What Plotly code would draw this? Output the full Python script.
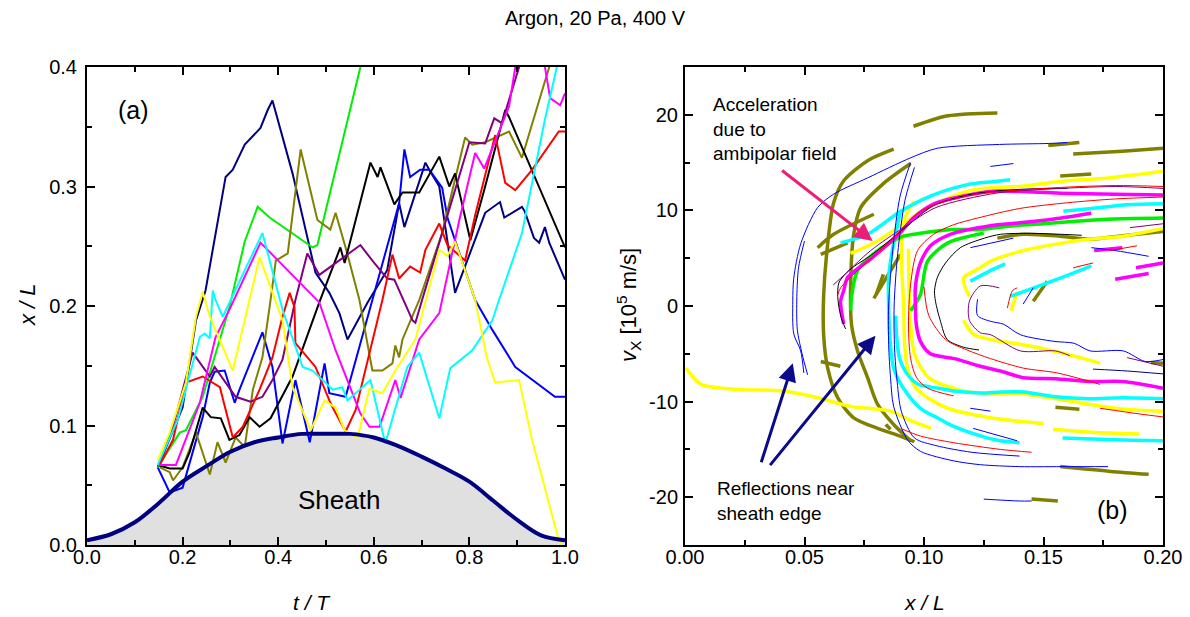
import plotly.graph_objects as go

# ================= Panel (a): x/L versus t/T =================
sheath_t = [0.00, 0.05, 0.10, 0.15, 0.20, 0.25, 0.30, 0.35, 0.40, 0.45, 0.50,
            0.55, 0.60, 0.65, 0.70, 0.75, 0.80, 0.85, 0.90, 0.95, 1.00]
sheath_x = [0.004, 0.009, 0.019, 0.035, 0.053, 0.066, 0.078, 0.086, 0.090, 0.093, 0.093,
            0.093, 0.090, 0.083, 0.074, 0.064, 0.053, 0.037, 0.021, 0.008, 0.004]

navy_t = [0.148, 0.200, 0.228, 0.248, 0.290, 0.305, 0.330, 0.363, 0.378, 0.388, 0.430, 0.478,
          0.507, 0.528, 0.545, 0.587, 0.628, 0.653, 0.664, 0.708, 0.716, 0.737, 0.770, 0.833,
          0.864, 0.873, 0.910, 0.916, 0.935, 0.946, 0.958, 0.967, 1.000]
navy_x = [0.065, 0.115, 0.188, 0.213, 0.308, 0.314, 0.335, 0.349, 0.364, 0.372, 0.311, 0.228,
          0.211, 0.194, 0.172, 0.203, 0.230, 0.286, 0.266, 0.320, 0.314, 0.300, 0.211, 0.278,
          0.287, 0.274, 0.283, 0.279, 0.257, 0.253, 0.266, 0.253, 0.222]

blue_t = [0.148, 0.173, 0.200, 0.242, 0.257, 0.267, 0.288, 0.309, 0.319, 0.367, 0.388, 0.409,
          0.436, 0.466, 0.497, 0.507, 0.541, 0.597, 0.612, 0.653, 0.664, 0.676, 0.697, 0.716,
          0.743, 0.754, 0.812, 0.848, 0.896, 0.946, 0.979, 1.000]
blue_x = [0.065, 0.044, 0.048, 0.107, 0.136, 0.145, 0.146, 0.119, 0.130, 0.178, 0.149, 0.085,
          0.138, 0.086, 0.152, 0.127, 0.124, 0.205, 0.228, 0.286, 0.331, 0.308, 0.314, 0.314,
          0.299, 0.274, 0.205, 0.180, 0.149, 0.134, 0.124, 0.124]

green_t = [0.148, 0.194, 0.207, 0.242, 0.298, 0.330, 0.357, 0.382, 0.472, 0.482, 0.572, 0.580]
green_x = [0.065, 0.094, 0.096, 0.124, 0.199, 0.254, 0.283, 0.274, 0.249, 0.251, 0.400, 0.415]

olive_t = [0.152, 0.173, 0.180, 0.200, 0.228, 0.257, 0.273, 0.290, 0.311, 0.330, 0.347, 0.367,
           0.384, 0.395, 0.420, 0.447, 0.482, 0.509, 0.520, 0.541, 0.570, 0.597, 0.618, 0.639,
           0.645, 0.653, 0.660, 0.695, 0.743, 0.791, 0.806, 0.833, 0.883, 0.910, 0.967, 0.975]
olive_x = [0.065, 0.061, 0.054, 0.065, 0.094, 0.059, 0.086, 0.069, 0.090, 0.082, 0.130, 0.157,
           0.205, 0.238, 0.244, 0.331, 0.272, 0.264, 0.278, 0.249, 0.205, 0.146, 0.146, 0.152,
           0.167, 0.157, 0.172, 0.205, 0.261, 0.341, 0.335, 0.337, 0.346, 0.324, 0.400, 0.415]

black_t = [0.148, 0.173, 0.200, 0.215, 0.242, 0.259, 0.280, 0.298, 0.319, 0.340, 0.361, 0.384,
           0.430, 0.486, 0.530, 0.539, 0.593, 0.608, 0.614, 0.643, 0.660, 0.695, 0.737, 0.758,
           0.770, 0.802, 0.831, 0.875, 0.883, 0.910, 1.000]
black_x = [0.067, 0.064, 0.064, 0.078, 0.115, 0.107, 0.106, 0.088, 0.092, 0.107, 0.099, 0.106,
           0.141, 0.203, 0.249, 0.236, 0.320, 0.308, 0.316, 0.285, 0.295, 0.295, 0.325, 0.300,
           0.311, 0.255, 0.297, 0.364, 0.358, 0.333, 0.249]

purple_t = [0.152, 0.184, 0.221, 0.257, 0.267, 0.311, 0.342, 0.367, 0.388, 0.409, 0.436, 0.461,
            0.486, 0.528, 0.572, 0.597, 0.628, 0.643, 0.681, 0.687, 0.701, 0.800, 0.833, 0.852,
            0.868, 0.904, 0.910]
purple_x = [0.067, 0.105, 0.161, 0.141, 0.149, 0.124, 0.120, 0.124, 0.138, 0.155, 0.205, 0.244,
            0.226, 0.238, 0.251, 0.238, 0.223, 0.222, 0.188, 0.186, 0.205, 0.337, 0.336, 0.357,
            0.353, 0.400, 0.415]

red_t = [0.152, 0.180, 0.207, 0.242, 0.278, 0.305, 0.326, 0.361, 0.388, 0.409, 0.424, 0.434,
         0.436, 0.478, 0.507, 0.514, 0.541, 0.562, 0.618, 0.639, 0.653, 0.676, 0.697, 0.708,
         0.737, 0.754, 0.791, 0.812, 0.854, 0.875, 0.896, 0.931, 0.987, 1.000]
red_x = [0.067, 0.088, 0.136, 0.141, 0.132, 0.090, 0.099, 0.130, 0.157, 0.191, 0.211, 0.199,
         0.169, 0.149, 0.121, 0.115, 0.095, 0.113, 0.205, 0.243, 0.223, 0.233, 0.228, 0.247,
         0.269, 0.251, 0.238, 0.276, 0.343, 0.303, 0.297, 0.314, 0.346, 0.346]

magenta_t = [0.148, 0.186, 0.236, 0.269, 0.298, 0.363, 0.486, 0.520, 0.572, 0.591, 0.612, 0.645,
             0.656, 0.695, 0.737, 0.743, 0.779, 0.812, 0.831, 0.883, 0.896, 0.927, 0.958, 0.969,
             0.990, 1.000]
magenta_x = [0.067, 0.067, 0.119, 0.174, 0.197, 0.253, 0.203, 0.163, 0.110, 0.099, 0.099, 0.138,
             0.123, 0.172, 0.194, 0.205, 0.272, 0.328, 0.315, 0.367, 0.400, 0.430, 0.400, 0.374,
             0.368, 0.378]

cyan_t = [0.148, 0.190, 0.236, 0.246, 0.257, 0.263, 0.269, 0.284, 0.367, 0.409, 0.451, 0.472,
          0.514, 0.534, 0.545, 0.593, 0.624, 0.670, 0.695, 0.737, 0.760, 0.806, 0.848, 0.862,
          0.910, 0.958, 0.983, 0.990]
cyan_x = [0.067, 0.105, 0.174, 0.177, 0.173, 0.213, 0.205, 0.191, 0.261, 0.197, 0.149, 0.146,
          0.130, 0.132, 0.121, 0.138, 0.085, 0.149, 0.161, 0.106, 0.148, 0.163, 0.188, 0.205,
          0.261, 0.356, 0.400, 0.415]

yellow_t = [0.148, 0.173, 0.207, 0.228, 0.242, 0.257, 0.305, 0.361, 0.409, 0.430, 0.468, 0.497,
            0.520, 0.539, 0.566, 0.591, 0.618, 0.645, 0.687, 0.737, 0.754, 0.770, 0.812, 0.837,
            0.854, 0.904, 0.931, 0.987, 0.994]
yellow_x = [0.071, 0.094, 0.136, 0.191, 0.212, 0.191, 0.146, 0.241, 0.188, 0.132, 0.096, 0.121,
            0.115, 0.096, 0.090, 0.131, 0.127, 0.146, 0.172, 0.247, 0.242, 0.254, 0.205, 0.156,
            0.136, 0.138, 0.088, 0.004, -0.002]

# ================= Panel (b): v_x versus x/L (segments) =================
# thick segments
olive_outer_x = [0.0873, 0.0764, 0.0664, 0.0622, 0.0597, 0.0580, 0.0580, 0.0597, 0.0639, 0.0706, 0.0806, 0.0900, 0.0960]
olive_outer_y = [16.4, 15.2, 13.1, 10.8, 6.5, 1.0, -3.0, -6.5, -9.6, -11.7, -12.8, -13.6, -14.2]
olive_second_x = [0.0944, 0.0830, 0.0735, 0.0706, 0.0693, 0.0697, 0.0722, 0.0764, 0.0806, 0.0873, 0.0944]
olive_second_y = [14.9, 12.8, 10.3, 7.5, 2.0, -2.0, -4.7, -7.5, -10.3, -12.4, -14.1]
olive_s1_x = [0.0555, 0.0622, 0.0790]
olive_s1_y = [6.1, 7.5, 9.6]
olive_s2_x = [0.0568, 0.0680]
olive_s2_y = [5.4, 6.6]
olive_s3_x = [0.0800, 0.0830]
olive_s3_y = [1.2, 3.3]
olive_s4_x = [0.0790, 0.0902]
olive_s4_y = [0.8, 5.4]
olive_s5_x = [0.1457, 0.1516]
olive_s5_y = [0.5, 2.6]
olive_top1_x = [0.0956, 0.1100, 0.1307]
olive_top1_y = [18.8, 19.9, 20.2]
olive_top2_x = [0.1520, 0.1650]
olive_top2_y = [16.8, 17.1]
olive_top3_x = [0.1624, 0.1830, 0.2000]
olive_top3_y = [15.9, 16.2, 16.5]
olive_mid_x = [0.1570, 0.1700]
olive_mid_y = [13.6, 13.8]
olive_right_x = [0.1307, 0.1416, 0.1570, 0.1695, 0.1850, 0.2000]
olive_right_y = [7.1, 7.5, 7.3, 7.0, 7.4, 7.8]
olive_low1_x = [0.1570, 0.1780, 0.1940]
olive_low1_y = [-16.8, -17.3, -17.6]
olive_low2_x = [0.1450, 0.1560]
olive_low2_y = [-20.2, -20.4]
olive_low3_x = [0.1550, 0.1650]
olive_low3_y = [-10.6, -10.8]
olive_left_x = [0.0568, 0.0650]
olive_left_y = [-5.8, -6.3]
olive_small_x = [0.0840, 0.0860]
olive_small_y = [-12.4, -12.9]
olive_edge_x = [0.1950, 0.2000]
olive_edge_y = [-5.9, -6.0]

yellow_long_x = [0.0004, 0.0067, 0.0205, 0.0413, 0.0555, 0.0693, 0.0860, 0.0944, 0.1030]
yellow_long_y = [-6.5, -8.2, -8.7, -8.9, -9.6, -10.5, -11.0, -12.0, -12.8]
yellow_upper_x = [0.0693, 0.0806, 0.0931, 0.1015, 0.1182, 0.1290, 0.1400, 0.1560, 0.1770, 0.2000]
yellow_upper_y = [5.5, 6.8, 8.9, 10.3, 12.0, 12.4, 12.5, 13.0, 13.4, 14.1]
yellow_c1_x = [0.0960, 0.0915, 0.0906, 0.0915, 0.0919, 0.0931, 0.0964, 0.1015, 0.1111, 0.1236, 0.1374, 0.1500]
yellow_c1_y = [11.0, 8.9, 5.0, 0.0, -4.0, -6.5, -8.5, -9.6, -10.8, -11.5, -12.0, -12.3]
yellow_c2_x = [0.0935, 0.0940, 0.0960, 0.1020, 0.1150, 0.1278, 0.1415, 0.1695, 0.1834, 0.2000]
yellow_c2_y = [6.0, 0.0, -5.0, -7.5, -8.8, -9.2, -9.2, -10.3, -10.8, -11.0]
yellow_c3_x = [0.1190, 0.1165, 0.1236, 0.1280, 0.1416, 0.1557, 0.1695, 0.1834, 0.2000]
yellow_c3_y = [1.0, 2.9, 4.0, 4.7, 5.8, 6.5, 7.0, 7.3, 8.1]
yellow_c3low_x = [0.1165, 0.1210, 0.1403, 0.1486, 0.1653, 0.1737]
yellow_c3low_y = [-1.5, -3.0, -4.0, -4.4, -5.4, -6.0]
yellow_seg_x = [0.1540, 0.1700, 0.1900]
yellow_seg_y = [-12.9, -13.2, -13.4]
yellow_tiny_x = [0.1365, 0.1390]
yellow_tiny_y = [-0.5, 1.5]

cyan_upper_x = [0.0651, 0.0764, 0.0902, 0.1027, 0.1182, 0.1290, 0.1360]
cyan_upper_y = [6.6, 7.5, 9.9, 11.5, 12.7, 13.0, 13.2]
cyan_c1_x = [0.0902, 0.0869, 0.0852, 0.0852, 0.0856, 0.0873, 0.0914, 0.0985, 0.1056, 0.1124, 0.1265, 0.1320, 0.1400]
cyan_c1_y = [9.9, 6.0, 3.0, 0.0, -2.9, -6.5, -8.6, -10.7, -11.7, -12.6, -13.8, -14.1, -14.3]
cyan_c2_x = [0.0881, 0.0898, 0.0935, 0.0977, 0.1060, 0.1124, 0.1236, 0.1320, 0.1416, 0.1550, 0.1690, 0.1830, 0.2000]
cyan_c2_y = [-1.0, -5.5, -7.3, -8.2, -8.6, -8.9, -9.1, -9.0, -9.0, -9.5, -9.7, -9.6, -9.7]
cyan_seg_x = [0.1580, 0.1800, 0.2000]
cyan_seg_y = [-13.8, -14.0, -14.1]
cyan_inner_x = [0.1360, 0.1460, 0.1600, 0.1700]
cyan_inner_y = [1.0, 1.9, 3.2, 4.2]
cyan_inner2_x = [0.1194, 0.1270, 0.1340]
cyan_inner2_y = [2.6, 3.6, 4.4]
cyan_right_x = [0.1583, 0.1700, 0.1850, 0.2000]
cyan_right_y = [9.9, 10.2, 10.6, 10.7]

magenta_c1_x = [0.0664, 0.0651, 0.0664, 0.0681, 0.0781, 0.0894, 0.0960, 0.1044, 0.1127, 0.1290, 0.1570, 0.1800, 0.2000]
magenta_c1_y = [-1.9, 0.5, 1.6, 3.0, 5.0, 7.5, 9.3, 10.7, 11.3, 12.0, 11.8, 11.7, 11.6]
magenta_c2_x = [0.1700, 0.1544, 0.1400, 0.1278, 0.1110, 0.1027, 0.0985, 0.0964, 0.0964, 0.0968, 0.0985,
                0.1027, 0.1127, 0.1236, 0.1320, 0.1416, 0.1550, 0.1690, 0.1830, 0.2000]
magenta_c2_y = [9.7, 9.1, 8.7, 8.4, 7.5, 6.3, 4.5, 2.0, 0.0, -2.0, -3.7,
                -5.0, -5.5, -6.3, -6.8, -7.5, -7.6, -7.9, -7.9, -8.6]
magenta_s1_x = [0.1712, 0.1830]
magenta_s1_y = [5.8, 6.1]
magenta_s2_x = [0.1887, 0.2000]
magenta_s2_y = [4.0, 4.5]
magenta_s3_x = [0.1800, 0.1940]
magenta_s3_y = [2.8, 3.4]

green_c1_x = [0.0693, 0.0697, 0.0722, 0.0806, 0.0914, 0.0985, 0.1115, 0.1236, 0.1375, 0.1500, 0.1653, 0.1800, 0.2000]
green_c1_y = [-0.5, 1.0, 3.7, 5.8, 7.3, 7.6, 8.0, 8.0, 8.4, 8.6, 8.9, 9.1, 9.2]
green_c2_x = [0.0944, 0.0985, 0.1015, 0.1100, 0.1250]
green_c2_y = [-0.5, 1.2, 4.7, 6.6, 7.6]

# thin segments
blue_outer_x = [0.0497, 0.0484, 0.0455, 0.0451, 0.0455, 0.0484, 0.0555, 0.0622, 0.0764, 0.0944, 0.1056, 0.1316, 0.1520, 0.1600]
blue_outer_y = [-7.0, -4.7, -2.9, 0.5, 2.9, 6.5, 10.3, 11.7, 13.4, 15.5, 16.5, 16.9, 17.0, 17.1]
blue_outer2_x = [0.0513, 0.0490, 0.0470, 0.0468, 0.0475, 0.0500]
blue_outer2_y = [-7.2, -5.0, -2.5, 1.0, 4.0, 6.8]
blue_va_x = [0.0944, 0.0900, 0.0869, 0.0852, 0.0852, 0.0860, 0.0873, 0.0931, 0.0985, 0.1124, 0.1236, 0.1400, 0.1600, 0.1770]
blue_va_y = [15.0, 11.5, 5.8, 0.0, -4.0, -7.5, -10.5, -14.0, -15.2, -16.2, -16.6, -16.8, -16.8, -16.8]
blue_vb_x = [0.0960, 0.0920, 0.0890, 0.0875, 0.0877, 0.0888, 0.0905, 0.0960, 0.1050, 0.1200, 0.1400]
blue_vb_y = [14.5, 11.0, 5.5, 0.0, -4.5, -8.0, -11.0, -13.8, -14.6, -15.3, -15.7]
blue_wig_x = [0.1224, 0.1224, 0.1278, 0.1332, 0.1403, 0.1544, 0.1628, 0.1695, 0.1834, 0.1925, 0.2000]
blue_wig_y = [0.7, -1.0, -1.6, -1.9, -3.0, -3.7, -3.9, -4.7, -4.7, -5.8, -5.6]
blue_bot_x = [0.1250, 0.1400, 0.1450]
blue_bot_y = [-20.2, -20.4, -20.4]
blue_mid_x = [0.1707, 0.1850, 0.2000]
blue_mid_y = [-6.6, -6.8, -7.1]
blue_up_x = [0.1700, 0.1800, 0.1940]
blue_up_y = [6.1, 5.8, 5.2]
blue_l1_x = [0.1194, 0.1278]
blue_l1_y = [-10.7, -11.0]
blue_l2_x = [0.1206, 0.1390]
blue_l2_y = [-12.8, -14.1]
blue_u1_x = [0.1194, 0.1374]
blue_u1_y = [6.1, 7.1]
blue_u2_x = [0.1278, 0.1374]
blue_u2_y = [14.6, 14.9]
blue_tiny_x = [0.1415, 0.1457]
blue_tiny_y = [0.2, 1.9]

black_c1_x = [0.0672, 0.0651, 0.0639, 0.0645, 0.0690, 0.0789, 0.0931, 0.1040, 0.1200, 0.1400, 0.1600]
black_c1_y = [-2.4, -1.0, 1.0, 2.5, 3.8, 5.5, 8.4, 10.5, 11.7, 12.2, 12.3]
black_c2_x = [0.1660, 0.1450, 0.1320, 0.1253, 0.1152, 0.1090, 0.1056, 0.1044, 0.1048, 0.1069, 0.1097, 0.1164, 0.1230]
black_c2_y = [7.4, 7.6, 7.5, 7.1, 6.1, 4.5, 3.0, 1.6, 0.5, -1.6, -3.5, -4.3, -4.6]

purple_c1_x = [0.0620, 0.0651, 0.0777, 0.0914, 0.1050, 0.1300, 0.1500, 0.1800, 0.2000]
purple_c1_y = [2.2, 2.9, 5.8, 8.2, 10.3, 11.8, 12.2, 12.5, 12.3]
purple_c2_x = [0.1315, 0.1236, 0.1190, 0.1190, 0.1236, 0.1278, 0.1403, 0.1550, 0.1610]
purple_c2_y = [1.9, 2.1, 0.5, -1.5, -2.8, -3.0, -4.7, -4.7, -5.2]
purple_r1_x = [0.1850, 0.2000]
purple_r1_y = [-5.4, -6.3]
purple_r2_x = [0.1862, 0.2000]
purple_r2_y = [8.2, 8.6]

red_c1_x = [0.0640, 0.0651, 0.0735, 0.0848, 0.0985, 0.1200, 0.1500, 0.1800, 0.2000]
red_c1_y = [1.2, 1.9, 4.0, 6.5, 9.9, 11.6, 12.3, 12.6, 12.5]
red_c2_x = [0.1124, 0.1015, 0.0969, 0.0944, 0.0935, 0.0944, 0.0973, 0.1040, 0.1124, 0.1224, 0.1400, 0.1600, 0.1800, 0.2000]
red_c2_y = [-9.4, -8.6, -7.5, -5.5, -2.0, 2.3, 5.8, 7.5, 8.5, 9.2, 10.2, 10.8, 11.2, 11.4]
red_c3_x = [0.1000, 0.1020, 0.1090, 0.1180, 0.1278, 0.1416, 0.1557, 0.1737]
red_c3_y = [2.0, -1.0, -3.5, -4.6, -5.5, -6.5, -7.0, -8.2]
red_low_x = [0.0902, 0.0985, 0.1124, 0.1320, 0.1450]
red_low_y = [-12.8, -13.6, -14.3, -15.0, -15.3]
red_rl_x = [0.1737, 0.1904, 0.2000]
red_rl_y = [-10.7, -11.3, -11.6]
red_s1_x = [0.1624, 0.1707]
red_s1_y = [4.0, 4.5]
red_s2_x = [0.1779, 0.1891]
red_s2_y = [5.8, 6.3]
red_tiny_x = [0.1349, 0.1370, 0.1390]
red_tiny_y = [-0.2, 1.6, 1.9]

COL = dict(navy="#000080", blue="#0000ff", green="#00ee00", olive="#808000", black="#000000",
           purple="#800080", red="#ff0000", magenta="#ff00ff", cyan="#00ffff", yellow="#ffff00")

fig = go.Figure()

# --- panel (a) ---
fig.add_trace(go.Scatter(x=sheath_t, y=sheath_x, mode="lines", line=dict(width=0, shape="spline"),
                         fill="tozeroy", fillcolor="#e0e0e0", xaxis="x", yaxis="y", hoverinfo="skip"))
left_lines = [
    (navy_t, navy_x, "navy"), (blue_t, blue_x, "blue"), (green_t, green_x, "green"),
    (olive_t, olive_x, "olive"), (black_t, black_x, "black"), (purple_t, purple_x, "purple"),
    (red_t, red_x, "red"), (magenta_t, magenta_x, "magenta"), (cyan_t, cyan_x, "cyan"),
    (yellow_t, yellow_x, "yellow"),
]
for tt, xx, c in left_lines:
    fig.add_trace(go.Scatter(x=tt, y=xx, mode="lines", line=dict(color=COL[c], width=2),
                             xaxis="x", yaxis="y"))
fig.add_trace(go.Scatter(x=sheath_t, y=sheath_x, mode="lines",
                         line=dict(color="#000080", width=4, shape="spline"), xaxis="x", yaxis="y"))

# --- panel (b) ---
thick = [
    (olive_outer_x, olive_outer_y, "olive"), (olive_second_x, olive_second_y, "olive"),
    (olive_s1_x, olive_s1_y, "olive"), (olive_s2_x, olive_s2_y, "olive"), (olive_s3_x, olive_s3_y, "olive"),
    (olive_s4_x, olive_s4_y, "olive"), (olive_s5_x, olive_s5_y, "olive"),
    (olive_top1_x, olive_top1_y, "olive"), (olive_top2_x, olive_top2_y, "olive"), (olive_top3_x, olive_top3_y, "olive"),
    (olive_mid_x, olive_mid_y, "olive"), (olive_right_x, olive_right_y, "olive"),
    (olive_low1_x, olive_low1_y, "olive"), (olive_low2_x, olive_low2_y, "olive"), (olive_low3_x, olive_low3_y, "olive"),
    (olive_left_x, olive_left_y, "olive"), (olive_small_x, olive_small_y, "olive"), (olive_edge_x, olive_edge_y, "olive"),
    (yellow_long_x, yellow_long_y, "yellow"), (yellow_upper_x, yellow_upper_y, "yellow"),
    (yellow_c1_x, yellow_c1_y, "yellow"), (yellow_c2_x, yellow_c2_y, "yellow"), (yellow_c3_x, yellow_c3_y, "yellow"),
    (yellow_c3low_x, yellow_c3low_y, "yellow"), (yellow_seg_x, yellow_seg_y, "yellow"), (yellow_tiny_x, yellow_tiny_y, "yellow"),
    (cyan_upper_x, cyan_upper_y, "cyan"), (cyan_c1_x, cyan_c1_y, "cyan"), (cyan_c2_x, cyan_c2_y, "cyan"),
    (cyan_seg_x, cyan_seg_y, "cyan"), (cyan_inner_x, cyan_inner_y, "cyan"), (cyan_inner2_x, cyan_inner2_y, "cyan"),
    (cyan_right_x, cyan_right_y, "cyan"),
    (green_c1_x, green_c1_y, "green"), (green_c2_x, green_c2_y, "green"),
    (magenta_c1_x, magenta_c1_y, "magenta"), (magenta_c2_x, magenta_c2_y, "magenta"),
    (magenta_s1_x, magenta_s1_y, "magenta"), (magenta_s2_x, magenta_s2_y, "magenta"), (magenta_s3_x, magenta_s3_y, "magenta"),
]
thin = [
    (blue_outer_x, blue_outer_y, "blue"), (blue_outer2_x, blue_outer2_y, "blue"),
    (blue_va_x, blue_va_y, "blue"), (blue_vb_x, blue_vb_y, "blue"), (blue_wig_x, blue_wig_y, "blue"),
    (blue_bot_x, blue_bot_y, "blue"), (blue_mid_x, blue_mid_y, "navy"), (blue_up_x, blue_up_y, "blue"),
    (blue_l1_x, blue_l1_y, "blue"), (blue_l2_x, blue_l2_y, "blue"), (blue_u1_x, blue_u1_y, "blue"),
    (blue_u2_x, blue_u2_y, "blue"), (blue_tiny_x, blue_tiny_y, "blue"),
    (black_c1_x, black_c1_y, "black"), (black_c2_x, black_c2_y, "black"),
    (purple_c1_x, purple_c1_y, "purple"), (purple_c2_x, purple_c2_y, "purple"),
    (purple_r1_x, purple_r1_y, "purple"), (purple_r2_x, purple_r2_y, "purple"),
    (red_c1_x, red_c1_y, "red"), (red_c2_x, red_c2_y, "red"), (red_c3_x, red_c3_y, "red"),
    (red_low_x, red_low_y, "red"), (red_rl_x, red_rl_y, "red"), (red_s1_x, red_s1_y, "red"),
    (red_s2_x, red_s2_y, "red"), (red_tiny_x, red_tiny_y, "red"),
]
for xx, yy, c in thick:
    fig.add_trace(go.Scatter(x=xx, y=yy, mode="lines", line=dict(color=COL[c], width=3.5, shape="spline", smoothing=0.8),
                             xaxis="x2", yaxis="y2"))
for xx, yy, c in thin:
    fig.add_trace(go.Scatter(x=xx, y=yy, mode="lines", line=dict(color=COL[c], width=1, shape="spline", smoothing=0.8),
                             xaxis="x2", yaxis="y2"))

TICKFONT = dict(family="Liberation Sans, Arial, sans-serif", size=20, color="black")
axis_common = dict(showline=True, linewidth=2, linecolor="black", mirror="allticks", ticks="inside",
                   ticklen=8, tickwidth=2, tickcolor="black", showgrid=False, zeroline=False,
                   tickfont=TICKFONT, automargin=False)
MINOR = dict(ticks="inside", ticklen=5, tickwidth=2, tickcolor="black", showgrid=False)

fig.update_layout(
    width=1190, height=617, margin=dict(l=0, r=0, t=0, b=0, autoexpand=False),
    paper_bgcolor="white", plot_bgcolor="white", showlegend=False,
    font=dict(family="Liberation Sans, Arial, sans-serif", color="black"),
    title=dict(text="Argon, 20 Pa, 400 V", x=0.5, xanchor="center", y=1 - 18 / 617, yanchor="middle",
               font=dict(size=20, color="black")),
    xaxis=dict(domain=[87 / 1190, 565 / 1190], range=[0, 1], dtick=0.2, tick0=0, tickformat=".1f",
               minor=dict(dtick=0.1, **MINOR), anchor="y", ticklabelstandoff=-7, **axis_common),
    yaxis=dict(domain=[1 - 545 / 617, 1 - 67 / 617], range=[0, 0.4], dtick=0.1, tick0=0, tickformat=".1f",
               minor=dict(dtick=0.05, **MINOR), anchor="x", ticklabelstandoff=4, **axis_common),
    xaxis2=dict(domain=[685 / 1190, 1163 / 1190], range=[0, 0.2], dtick=0.05, tick0=0, tickformat=".2f",
                minor=dict(dtick=0.025, **MINOR), anchor="y2", ticklabelstandoff=-7, **axis_common),
    yaxis2=dict(domain=[1 - 545 / 617, 1 - 67 / 617], range=[-25, 25],
                tickvals=[-20, -10, 0, 10, 20], ticktext=["-20", "-10", "0", "10", "20"],
                minor=dict(tickvals=[-25, -15, -5, 5, 15, 25], **MINOR),
                anchor="x2", ticklabelstandoff=1, **axis_common),
)

C = dict(xanchor="center", yanchor="middle", showarrow=False)
ann = []
# axis titles
ann.append(dict(text="<i>t / T</i>", x=312 / 1190, y=1 - 602 / 617, xref="paper", yref="paper",
                font=dict(size=21), **C))
ann.append(dict(text="<i>x / L</i>", x=924 / 1190, y=1 - 602 / 617, xref="paper", yref="paper",
                font=dict(size=21), **C))
ann.append(dict(text="<i>x / L</i>", x=27 / 1190, y=1 - 305 / 617, xref="paper", yref="paper",
                textangle=-90, font=dict(size=22), **C))
ann.append(dict(text="<i>v</i><sub>X</sub> [10<sup>5</sup> m/s]", x=628 / 1190, y=1 - 305 / 617,
                xref="paper", yref="paper", textangle=-90, font=dict(size=22), **C))
# panel labels
ann.append(dict(text="(a)", x=0.097, y=0.364, xref="x", yref="y", font=dict(size=25), **C))
ann.append(dict(text="Sheath", x=0.528, y=0.038, xref="x", yref="y", font=dict(size=26), **C))
ann.append(dict(text="(b)", x=0.179, y=-21.3, xref="x2", yref="y2", font=dict(size=25), **C))
# text notes
ann.append(dict(text="Acceleration<br>due to<br>ambipolar field", x=0.0109, y=18.5, xref="x2", yref="y2",
                xanchor="left", yanchor="middle", align="left", showarrow=False, font=dict(size=19)))
ann.append(dict(text="Reflections near<br>sheath edge", x=0.0125, y=-20.4, xref="x2", yref="y2",
                xanchor="left", yanchor="middle", align="left", showarrow=False, font=dict(size=19)))
# arrows
ann.append(dict(x=0.0785, y=6.8, ax=0.040, ay=14.3, xref="x2", yref="y2", axref="x2", ayref="y2",
                text="", showarrow=True, arrowhead=2, arrowsize=1.2, arrowwidth=3, arrowcolor="#ee1e78"))
ann.append(dict(x=0.0451, y=-6.0, ax=0.0317, ay=-16.5, xref="x2", yref="y2", axref="x2", ayref="y2",
                text="", showarrow=True, arrowhead=2, arrowsize=1.2, arrowwidth=3, arrowcolor="#0a0a8a"))
ann.append(dict(x=0.0797, y=-3.1, ax=0.0351, ay=-16.8, xref="x2", yref="y2", axref="x2", ayref="y2",
                text="", showarrow=True, arrowhead=2, arrowsize=1.2, arrowwidth=3, arrowcolor="#0a0a8a"))
fig.update_layout(annotations=ann)

fig.write_html("out.html", config={"displayModeBar": False},
               post_script="document.body.style.margin='0';")
